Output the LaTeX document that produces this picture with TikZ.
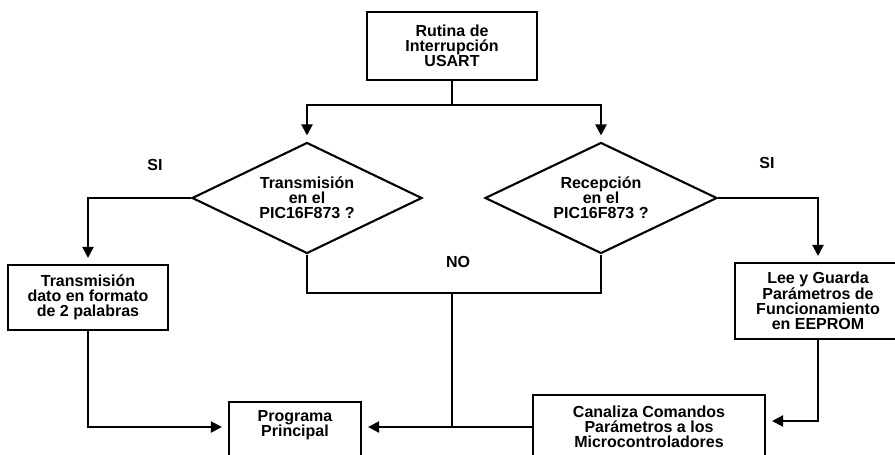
\documentclass[tikz,border=0pt]{standalone}
\usepackage{fontspec}
\setmainfont{Liberation Sans}
\usetikzlibrary{shapes.geometric,arrows.meta}
\begin{document}
\begin{tikzpicture}[x=1pt,y=-1pt,
  every node/.style={font=\bfseries\fontsize{16}{15}\selectfont, align=center},
  box/.style={draw, line width=2.1pt, inner sep=0pt},
  dec/.style={draw, diamond, aspect=2, line width=2.1pt, inner sep=0pt},
  flow/.style={line width=2.1pt},
  arr/.style={flow, -{Triangle[length=11pt,width=11pt]}, shorten >=6pt}]
\useasboundingbox (0,0) rectangle (895,455);
\fill[white] (0,0) rectangle (895,455);
\clip (0,0) rectangle (895,455);

% process boxes and decisions
\node[box, minimum width=170pt, minimum height=68pt] (isr) at (452,46)
  {Rutina de\\Interrupción\\USART};
\node[dec, minimum width=230pt, minimum height=111pt] (qtx) at (307,198)
  {Transmisión\\en el\\PIC16F873 ?};
\node[dec, minimum width=232pt, minimum height=111pt] (qrx) at (601,198)
  {Recepción\\en el\\PIC16F873 ?};
\node[box, minimum width=160pt, minimum height=65pt] (send) at (88,297.5)
  {Transmisión\\dato en formato\\de 2 palabras};
\node[box, minimum width=166pt, minimum height=76pt] (store) at (818,301)
  {Lee y Guarda\\Parámetros de\\Funcionamiento\\en EEPROM};
\node[box, minimum width=132pt, minimum height=60pt] (main) at (295,432) {};
\node (maintext) at (295,425) {Programa\\Principal};
\node[box, minimum width=232pt, minimum height=64pt] (route) at (649,427)
  {Canaliza Comandos\\Parámetros a los\\Microcontroladores};

% branch labels
\node (yesL) at (155,165) {SI};
\node (yesR) at (767,163) {SI};
\node (noL) at (458,262) {NO};

% junction points
\coordinate (fork) at (452,105);
\coordinate (nojoin) at (452,293);
\coordinate (nomerge) at (452,427);

% connectors
\draw[flow] (isr.south) -- (fork);
\draw[arr] (fork) -| (qtx.north);
\draw[arr] (fork) -| (qrx.north);
\draw[arr] (qtx.west) -| (send.north);
\draw[arr] (qrx.east) -| (store.north);
\draw[flow] (qtx.south) |- (nojoin) -| (qrx.south);
\draw[flow] (nojoin) -- (nomerge);
\draw[arr] (route.west |- nomerge) -- (main.east |- nomerge);
\draw[arr] (send.south) |- (main.west |- nomerge);
\draw[arr] (store.south) |- ([yshift=6pt]route.east);
\end{tikzpicture}
\end{document}
